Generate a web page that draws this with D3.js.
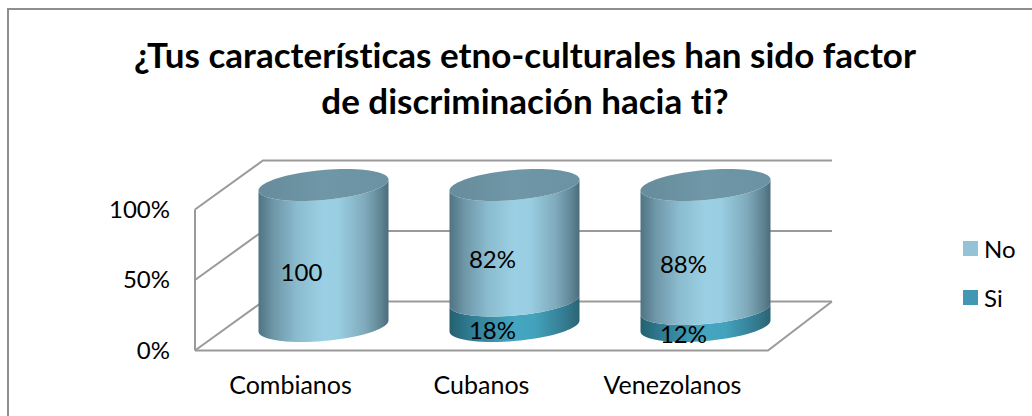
<!DOCTYPE html>
<html>
<head>
<meta charset="utf-8">
<script src="https://cdn.jsdelivr.net/npm/d3@7"></script>
<style>
html, body { margin: 0; padding: 0; background: #fff; overflow: hidden; }
text { font-family: Lato, "Open Sans", sans-serif; fill: #000; font-variant-ligatures: none; }
</style>
</head>
<body>
<div id="chart"></div>
<script>
const titleLines = ['¿Tus características etno-culturales han sido factor', 'de discriminación hacia ti?']
const categories = ['Combianos', 'Cubanos', 'Venezolanos']
const siValues = [0, 18, 12]
const noValues = [100, 82, 88]
const siLabels = ['', '18%', '12%']
const noLabels = ['100', '82%', '88%']
const yTicks = [0, 50, 100]
const yTickLabels = ['0%', '50%', '100%']
const legendNames = ['No', 'Si']

const width = 1032, height = 416
const depthX = 68, depthY = -49
const cylRadius = 65, cylTilt = 5.5, cylMinor = 15

const x = d3.scaleBand().domain(categories).range([195, 768])
const y = d3.scaleLinear().domain([0, 100]).range([350.5, 209.5])
// cylinders stand halfway along the floor depth
const cx = d => x(d) + x.bandwidth() / 2 + depthX / 2 - 1
const cy = v => y(v) + depthY / 2

const svg = d3.select('#chart').append('svg')
    .attr('width', width)
    .attr('height', height)
    .style('display', 'block')

// the frame runs off the right and bottom of the picture
svg.append('rect')
    .attr('x', 8).attr('y', 9)
    .attr('width', 1060).attr('height', 440)
    .attr('fill', '#fff')
    .attr('stroke', '#8e8e8e')
    .attr('stroke-width', 2)

svg.selectAll('text.title')
    .data(titleLines)
    .enter()
    .append('text')
    .attr('class', 'title')
    .attr('x', 525)
    .attr('y', (d, i) => 68 + i * 46)
    .attr('text-anchor', 'middle')
    .attr('font-size', 35)
    .attr('font-weight', 700)
    .text(d => d)

// walls and floor
const grid = svg.append('g')
    .attr('fill', 'none')
    .attr('stroke', '#9a9a9a')
    .attr('stroke-width', 2)
const wallLine = d3.line()
grid.selectAll('path.tick')
    .data(yTicks)
    .enter()
    .append('path')
    .attr('d', t => wallLine([
        [x.range()[0], y(t)],
        [x.range()[0] + depthX, y(t) + depthY],
        [x.range()[1] + depthX - 4, y(t) + depthY]
    ]))
grid.append('path').attr('d', wallLine([
    [x.range()[0], y(0)], [x.range()[0], y(100)]
]))
grid.append('path').attr('d', wallLine([
    [x.range()[0], y(0)], [x.range()[1], y(0)], [x.range()[1] + depthX - 4, y(0) + depthY]
]))

svg.selectAll('text.ytick')
    .data(yTicks)
    .enter()
    .append('text')
    .attr('class', 'ytick')
    .attr('x', 170)
    .attr('y', t => y(t) + 8)
    .attr('text-anchor', 'end')
    .attr('font-size', 24)
    .text((t, i) => yTickLabels[i])

svg.selectAll('text.cat')
    .data(categories)
    .enter()
    .append('text')
    .attr('class', 'cat')
    .attr('x', d => x(d) + x.bandwidth() / 2)
    .attr('y', 394)
    .attr('text-anchor', 'middle')
    .attr('font-size', 25)
    .text(d => d)

// gradients for the round sides
const defs = svg.append('defs')
function sideGradient(id, stops) {
    const g = defs.append('linearGradient').attr('id', id)
    stops.forEach(s => g.append('stop').attr('offset', s[0]).attr('stop-color', s[1]))
}
sideGradient('gradNo', [[0, '#4f7382'], [0.12, '#6f98a9'], [0.3, '#8bbccf'], [0.5, '#9bd0e4'], [0.62, '#99cde1'], [0.82, '#7faabb'], [0.94, '#5f8594'], [1, '#4d6c79']])
sideGradient('gradSi', [[0, '#24606f'], [0.15, '#2f7a91'], [0.5, '#45a6c1'], [0.65, '#43a3bd'], [0.9, '#33798e'], [1, '#2a6372']])
sideGradient('gradTop', [[0, '#678c9b'], [0.5, '#6f97a7'], [1, '#6b92a2']])

// shape of a cylinder section, the ellipse is sheared so it leans up to the right
const angles = d3.range(0, 181, 5).map(a => a * Math.PI / 180)
const edge = (c, v, t) => [cx(c) + cylRadius * Math.cos(t), cy(v) - cylTilt * Math.cos(t) + cylMinor * Math.sin(t)]
const curve = d3.line()
function sidePath(c, v0, v1) {
    const lower = angles.map(t => edge(c, v0, t))
    const upper = angles.map(t => edge(c, v1, t)).reverse()
    return curve(lower.concat(upper)) + 'Z'
}
function topPath(c, v) {
    const front = angles.map(t => edge(c, v, t))
    const back = angles.map(t => edge(c, v, -t)).reverse()
    return curve(front.concat(back)) + 'Z'
}

const cols = svg.selectAll('g.col')
    .data(categories)
    .enter()
    .append('g')
    .attr('class', 'col')

cols.append('path')
    .attr('d', (d, i) => sidePath(d, 0, siValues[i]))
    .attr('fill', 'url(#gradSi)')
cols.append('path')
    .attr('d', (d, i) => sidePath(d, siValues[i], siValues[i] + noValues[i]))
    .attr('fill', 'url(#gradNo)')
cols.append('path')
    .attr('d', (d, i) => topPath(d, siValues[i] + noValues[i]))
    .attr('fill', 'url(#gradTop)')

// data labels sit at the middle of each stack section on the front plane
const labelX = d => x(d) + x.bandwidth() / 2 + 11
cols.append('text')
    .attr('x', labelX)
    .attr('y', (d, i) => y(siValues[i] + noValues[i] / 2) + 1)
    .attr('text-anchor', 'middle')
    .attr('font-size', 24)
    .text((d, i) => noLabels[i])
cols.append('text')
    .attr('x', labelX)
    .attr('y', (d, i) => y(siValues[i] / 2) + 1)
    .attr('text-anchor', 'middle')
    .attr('font-size', 24)
    .text((d, i) => siLabels[i])

const color = d3.scaleOrdinal().domain(legendNames).range(['#93c3d5', '#4298b3'])
const legendY = d3.scalePoint().domain(legendNames).range([241, 290])
const legend = svg.selectAll('g.legend')
    .data(legendNames)
    .enter()
    .append('g')
    .attr('class', 'legend')
    .attr('transform', d => `translate(963, ${legendY(d)})`)
legend.append('rect')
    .attr('width', 15)
    .attr('height', 15)
    .attr('fill', d => color(d))
legend.append('text')
    .attr('x', 21)
    .attr('y', 17)
    .attr('font-size', 24)
    .text(d => d)
</script>
</body>
</html>
